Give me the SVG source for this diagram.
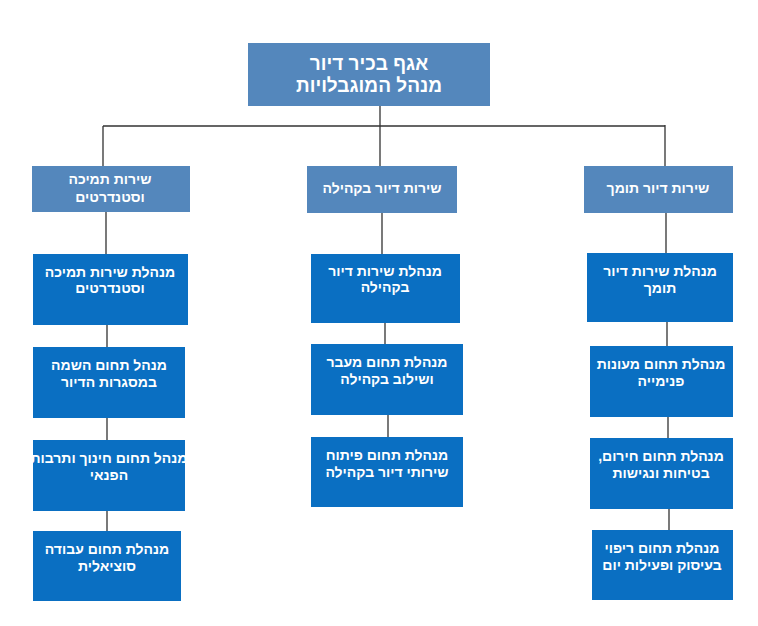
<svg xmlns="http://www.w3.org/2000/svg" width="758" height="626" viewBox="0 0 758 626">
<style>
.a{fill:#5487bc}.b{fill:#0a6fc2}
text{font-family:"Liberation Sans","DejaVu Sans",sans-serif;font-weight:bold;fill:#fff;text-anchor:middle;direction:rtl}
.t{font-size:19px}.s{font-size:14px}
.c{stroke:#333;stroke-width:1.3;fill:none}
</style>
<rect width="758" height="626" fill="#fff"/>
<g id="connectors" class="c">
<path d="M380 106V125M103 126H665M103 126V166M380 125V166M665 125V166"/>
<path d="M106 212V254M107 325V347M107 418V440M107 511V531"/>
<path d="M382 213V254M385 323V344M388 415V437"/>
<path d="M666 213V253M667 322V346M668 417V438M669 509V530"/>
</g>
<g id="root"><rect class="a" x="248" y="43" width="242" height="63"/><text class="t" x="369" y="70">אגף בכיר דיור</text><text class="t" x="369" y="92">מנהל המוגבלויות</text></g>
<g id="n1"><rect class="a" x="32" y="166" width="158" height="46"/><text class="s" x="110" y="184">שירות תמיכה</text><text class="s" x="110" y="202">וסטנדרטים</text></g>
<g id="n2"><rect class="a" x="307" y="166" width="150" height="47"/><text class="s" x="382" y="193">שירות דיור בקהילה</text></g>
<g id="n3"><rect class="a" x="584" y="166" width="149" height="47"/><text class="s" x="658" y="193">שירות דיור תומך</text></g>
<g id="l1"><rect class="b" x="33" y="254" width="155" height="71"/><text class="s" x="110" y="277">מנהלת שירות תמיכה</text><text class="s" x="110" y="293">וסטנדרטים</text></g>
<g id="l2"><rect class="b" x="33" y="347" width="152" height="71"/><text class="s" x="109" y="370">מנהל תחום השמה</text><text class="s" x="109" y="387">במסגרות הדיור</text></g>
<g id="l3"><rect class="b" x="33" y="440" width="152" height="71"/><text class="s" x="109" y="463">מנהל תחום חינוך ותרבות</text><text class="s" x="109" y="480">הפנאי</text></g>
<g id="l4"><rect class="b" x="33" y="531" width="148" height="70"/><text class="s" x="107" y="554">מנהלת תחום עבודה</text><text class="s" x="107" y="571">סוציאלית</text></g>
<g id="m1"><rect class="b" x="311" y="254" width="149" height="69"/><text class="s" x="385" y="276">מנהלת שירות דיור</text><text class="s" x="385" y="292">בקהילה</text></g>
<g id="m2"><rect class="b" x="311" y="344" width="152" height="71"/><text class="s" x="387" y="367">מנהלת תחום מעבר</text><text class="s" x="387" y="384">ושילוב בקהילה</text></g>
<g id="m3"><rect class="b" x="311" y="437" width="152" height="70"/><text class="s" x="387" y="460">מנהלת תחום פיתוח</text><text class="s" x="387" y="477">שירותי דיור בקהילה</text></g>
<g id="r1"><rect class="b" x="587" y="253" width="146" height="69"/><text class="s" x="660" y="276">מנהלת שירות דיור</text><text class="s" x="660" y="293">תומך</text></g>
<g id="r2"><rect class="b" x="590" y="346" width="143" height="71"/><text class="s" x="661" y="369">מנהלת תחום מעונות</text><text class="s" x="661" y="386">פנימייה</text></g>
<g id="r3"><rect class="b" x="590" y="438" width="143" height="71"/><text class="s" x="661" y="461">מנהלת תחום חירום,</text><text class="s" x="661" y="478">בטיחות ונגישות</text></g>
<g id="r4"><rect class="b" x="592" y="530" width="141" height="70"/><text class="s" x="662" y="553">מנהלת תחום ריפוי</text><text class="s" x="662" y="570">בעיסוק ופעילות יום</text></g>
</svg>
